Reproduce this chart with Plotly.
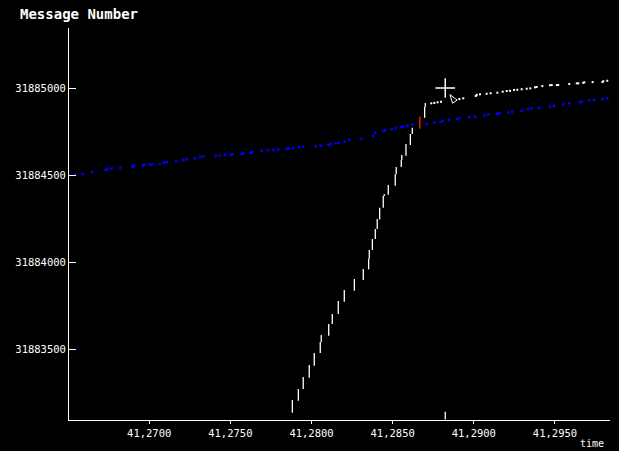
import plotly.graph_objects as go

# ---- data (time in s, message number) ----
# steep white segments: time, low, high
seg_t = [41.27882, 41.27919, 41.27949, 41.27986, 41.28017, 41.28054, 41.28060, 41.28106,
         41.28128, 41.28165, 41.28202, 41.28264, 41.28319, 41.28352, 41.28356, 41.28375,
         41.28393, 41.28405, 41.28420, 41.28442, 41.28448, 41.28473, 41.28516, 41.28522,
         41.28553, 41.28556, 41.28582, 41.28609, 41.28621, 41.28697, 41.28701]
seg_lo = [31883134, 31883203, 31883270, 31883335, 31883404, 31883477, 31883540, 31883576,
          31883644, 31883701, 31883772, 31883835, 31883897, 31883958, 31884019, 31884069,
          31884132, 31884190, 31884245, 31884312, 31884379, 31884387, 31884439, 31884504,
          31884546, 31884586, 31884611, 31884672, 31884736, 31884829, 31884891]
seg_hi = [31883207, 31883270, 31883339, 31883408, 31883477, 31883540, 31883580, 31883644,
          31883701, 31883776, 31883839, 31883902, 31883960, 31884019, 31884069, 31884132,
          31884190, 31884247, 31884312, 31884379, 31884391, 31884443, 31884504, 31884546,
          31884586, 31884615, 31884678, 31884736, 31884772, 31884891, 31884914]

# white dotted tail
dot_t = [41.28738, 41.28757, 41.28777, 41.28798, 41.28911, 41.28935, 41.29012, 41.29018,
         41.29038, 41.29079, 41.29104, 41.29145, 41.29178, 41.29203, 41.29223, 41.29248,
         41.29268, 41.29295, 41.29326, 41.29348, 41.29377, 41.29387, 41.29422, 41.29469,
         41.29480, 41.29511, 41.29520, 41.29588, 41.29634, 41.29644, 41.29674, 41.29681,
         41.29732, 41.29792, 41.29798, 41.29822]
dot_y = [31884912, 31884914, 31884918, 31884921, 31884937, 31884941, 31884954, 31884961,
         31884964, 31884967, 31884970, 31884973, 31884979, 31884983, 31884984, 31884989,
         31884990, 31884993, 31884996, 31884998, 31885004, 31885006, 31885011, 31885016,
         31885017, 31885017, 31885017, 31885023, 31885027, 31885027, 31885030, 31885033,
         31885034, 31885034, 31885039, 31885042]

# blue dotted series
blue_t = [41.26543, 41.26590, 41.26649, 41.26730, 41.26744, 41.26769, 41.26822, 41.26896,
          41.26906, 41.26960, 41.26970, 41.27005, 41.27019, 41.27067, 41.27091, 41.27108,
          41.27165, 41.27210, 41.27231, 41.27282, 41.27313, 41.27333, 41.27410, 41.27432,
          41.27467, 41.27502, 41.27514, 41.27570, 41.27580, 41.27625, 41.27635, 41.27693,
          41.27734, 41.27765, 41.27795, 41.27847, 41.27863, 41.27888, 41.27925, 41.27949,
          41.28026, 41.28057, 41.28106, 41.28118, 41.28149, 41.28168, 41.28205, 41.28233,
          41.28309, 41.28381, 41.28393, 41.28442, 41.28453, 41.28494, 41.28519, 41.28551,
          41.28562, 41.28590, 41.28623, 41.28710, 41.28757, 41.28796, 41.28810, 41.28847,
          41.28895, 41.28911, 41.28972, 41.29009, 41.29065, 41.29089, 41.29141, 41.29157,
          41.29212, 41.29237, 41.29295, 41.29336, 41.29357, 41.29403, 41.29469, 41.29494,
          41.29551, 41.29588, 41.29654, 41.29665, 41.29711, 41.29740, 41.29792, 41.29822]
blue_y = [31884504, 31884506, 31884516, 31884529, 31884536, 31884538, 31884542, 31884548,
          31884552, 31884554, 31884559, 31884561, 31884561, 31884563, 31884571, 31884573,
          31884579, 31884586, 31884590, 31884596, 31884605, 31884607, 31884611, 31884613,
          31884615, 31884617, 31884619, 31884621, 31884625, 31884628, 31884632, 31884640,
          31884642, 31884644, 31884648, 31884651, 31884653, 31884655, 31884659, 31884663,
          31884665, 31884668, 31884674, 31884678, 31884682, 31884684, 31884691, 31884701,
          31884709, 31884724, 31884743, 31884753, 31884757, 31884763, 31884770, 31884774,
          31884778, 31884783, 31884789, 31884795, 31884801, 31884806, 31884812, 31884816,
          31884822, 31884826, 31884832, 31884835, 31884843, 31884849, 31884852, 31884855,
          31884860, 31884864, 31884870, 31884879, 31884883, 31884887, 31884893, 31884898,
          31884906, 31884912, 31884918, 31884921, 31884929, 31884931, 31884937, 31884941]

red_t = [41.28667]
red_lo = [31884766]
red_hi = [31884835]

mark_t = [41.28824]
mark_lo = [31883095]
mark_hi = [31883140]

cursor_t = [41.28824]
cursor_y = [31885000]
pointer_t = [41.28853]
pointer_y = [31884962]

x_tickvals = [41.2700, 41.2750, 41.2800, 41.2850, 41.2900, 41.2950]
x_ticktext = ["41,2700", "41,2750", "41,2800", "41,2850", "41,2900", "41,2950"]
y_tickvals = [31883500, 31884000, 31884500, 31885000]
y_ticktext = ["31883500", "31884000", "31884500", "31885000"]

x_range = [41.26506, 41.29839]
y_range = [31883092, 31885345]


def segs(ts, los, his):
    xs, ys = [], []
    for t, lo, hi in zip(ts, los, his):
        xs += [t, t, None]
        ys += [lo, hi, None]
    return xs, ys


fig = go.Figure()

bx, by = segs(seg_t, seg_lo, seg_hi)
fig.add_trace(go.Scatter(x=bx, y=by, mode="lines", line=dict(color="white", width=1.3),
                         hoverinfo="skip", showlegend=False))
fig.add_trace(go.Scatter(x=blue_t, y=blue_y, mode="markers",
                         marker=dict(symbol="square", size=2.5, color="#0000ff", line=dict(width=0)),
                         showlegend=False))
fig.add_trace(go.Scatter(x=dot_t, y=dot_y, mode="markers",
                         marker=dict(symbol="square", size=2, color="white", line=dict(width=0)),
                         showlegend=False))
rx, ry = segs(red_t, red_lo, red_hi)
fig.add_trace(go.Scatter(x=rx, y=ry, mode="lines", line=dict(color="#e02020", width=1.5),
                         showlegend=False))
mx, my = segs(mark_t, mark_lo, mark_hi)
fig.add_trace(go.Scatter(x=mx, y=my, mode="lines", line=dict(color="white", width=1.3),
                         showlegend=False))
fig.add_trace(go.Scatter(x=cursor_t, y=cursor_y, mode="markers",
                         marker=dict(symbol="cross-thin", size=14, color="white",
                                     line=dict(color="white", width=1.5)),
                         showlegend=False))
fig.add_trace(go.Scatter(x=pointer_t, y=pointer_y, mode="markers",
                         marker=dict(symbol="arrow-open", size=9, angle=-35, color="white",
                                     line=dict(color="white", width=1)),
                         showlegend=False))

mono = "DejaVu Sans Mono"
fig.update_layout(
    width=619, height=451,
    paper_bgcolor="black", plot_bgcolor="black",
    margin=dict(l=69, r=9, t=28, b=31),
    font=dict(family=mono, color="white", size=10),
    xaxis=dict(range=x_range, showgrid=False, zeroline=False, showline=True,
               linecolor="white", linewidth=1, ticks="outside", ticklen=3,
               tickcolor="white", tickvals=x_tickvals, ticktext=x_ticktext,
               tickfont=dict(family=mono, size=10.5, color="white")),
    yaxis=dict(range=y_range, showgrid=False, zeroline=False, showline=True,
               linecolor="white", linewidth=1, ticks="inside", ticklen=7,
               tickcolor="white", tickvals=y_tickvals, ticktext=y_ticktext,
               tickfont=dict(family=mono, size=10.5, color="white")),
    annotations=[
        dict(text="<b>Message Number</b>", xref="paper", yref="paper", x=-69/541, y=1 + 14/392,
             xanchor="left", yanchor="middle", xshift=18, showarrow=False,
             font=dict(family=mono, size=14, color="white")),
        dict(text="time", xref="paper", yref="paper", x=1, y=0, xanchor="center",
             yanchor="middle", xshift=-18, yshift=-23, showarrow=False,
             font=dict(family=mono, size=10, color="white")),
    ],
)

fig.write_html("out.html", config={"displayModeBar": False},
               post_script="document.body.style.margin='0';document.body.style.overflow='hidden';")
